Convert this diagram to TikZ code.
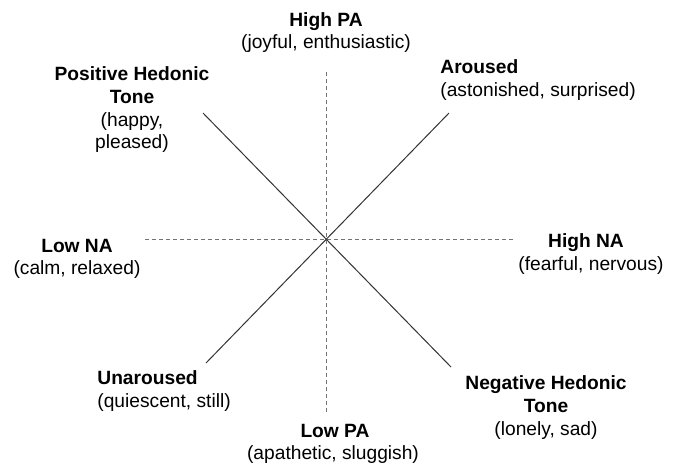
\documentclass[tikz,border=0pt]{standalone}
\usepackage{fontspec}
\setmainfont{Liberation Sans}
\begin{document}
\begin{tikzpicture}[x=0.5pt,y=-0.5pt,
  lbl/.style={font=\fontsize{9.6}{12}\selectfont, inner sep=0pt, anchor=base},
  hd/.style={lbl, font=\fontsize{9.6}{12}\selectfont\bfseries},
  axis/.style={draw=black!55, line width=0.5pt, dash pattern=on 2pt off 1.5pt},
  diag/.style={draw=black!80, line width=0.5pt}]
\useasboundingbox (0,0) rectangle (676,463);
% axes
\coordinate (c) at (326,239);
\coordinate (vt) at (326,72);
\coordinate (vb) at (326,412);
\coordinate (hl) at (145,239);
\coordinate (hr) at (513,239);
\coordinate (nw) at (203,113);
\coordinate (se) at (451,367);
\coordinate (ne) at (449,113);
\coordinate (sw) at (206,363);
\draw[axis] (vt) -- (vb);
\draw[axis] (hl) -- (hr);
\draw[diag] (nw) -- (se);
\draw[diag] (ne) -- (sw);
% labels
\node[hd] (hpa) at (326,26) {High PA};
\node[lbl] (hpa2) at (326,48) {(joyful, enthusiastic)};
\node[hd] (pht1) at (132,80) {Positive Hedonic};
\node[hd] (pht2) at (132,103) {Tone};
\node[lbl] (pht3) at (132,126) {(happy,};
\node[lbl] (pht4) at (132,148) {pleased)};
\node[hd, anchor=base west] (ar1) at (440,73) {Aroused};
\node[lbl, anchor=base west] (ar2) at (440,96) {(astonished, surprised)};
\node[hd] (lna1) at (77,252) {Low NA};
\node[lbl] (lna2) at (77,274) {(calm, relaxed)};
\node[hd] (hna1) at (586,247) {High NA};
\node[lbl] (hna2) at (591,270) {(fearful, nervous)};
\node[hd, anchor=base west] (un1) at (97,384) {Unaroused};
\node[lbl, anchor=base west] (un2) at (97,407) {(quiescent, still)};
\node[hd] (nht1) at (546,389) {Negative Hedonic};
\node[hd] (nht2) at (546,412) {Tone};
\node[lbl] (nht3) at (546,435) {(lonely, sad)};
\node[hd] (lpa1) at (335,437) {Low PA};
\node[lbl] (lpa2) at (333,459) {(apathetic, sluggish)};
\end{tikzpicture}
\end{document}
